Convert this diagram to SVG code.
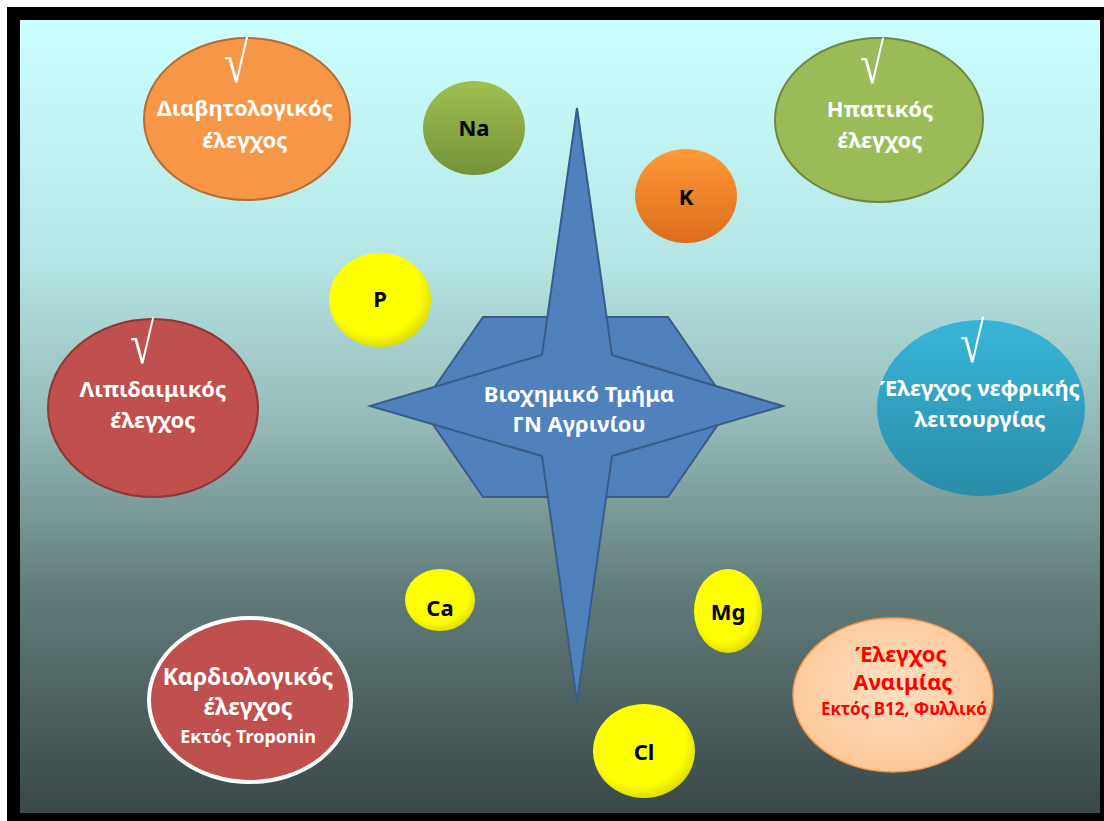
<svg xmlns="http://www.w3.org/2000/svg" width="1104" height="821" viewBox="0 0 1104 821">
<defs>
<linearGradient id="bg" x1="0" y1="0" x2="0" y2="1">
<stop offset="0" stop-color="#CCFFFF"/>
<stop offset="0.3" stop-color="#B5E6E5"/>
<stop offset="0.5" stop-color="#96BCB9"/>
<stop offset="0.72" stop-color="#627C7B"/>
<stop offset="1" stop-color="#3A4747"/>
</linearGradient>
<linearGradient id="gNa" x1="0" y1="0" x2="0" y2="1">
<stop offset="0" stop-color="#9FC04F"/>
<stop offset="1" stop-color="#74913A"/>
</linearGradient>
<linearGradient id="gK" x1="0" y1="0" x2="0" y2="1">
<stop offset="0" stop-color="#FF9A36"/>
<stop offset="1" stop-color="#DC6C1E"/>
</linearGradient>
<radialGradient id="gY" cx="0.45" cy="0.42" r="0.6">
<stop offset="0.75" stop-color="#FFFF00"/>
<stop offset="1" stop-color="#DADA00"/>
</radialGradient>
<linearGradient id="gBlue" x1="0" y1="0" x2="0" y2="1">
<stop offset="0" stop-color="#38B5D9"/>
<stop offset="1" stop-color="#2A8CA8"/>
</linearGradient>
<radialGradient id="gPeach" cx="0.5" cy="0.45" r="0.6">
<stop offset="0" stop-color="#FFE0C2"/>
<stop offset="1" stop-color="#FCC593"/>
</radialGradient>
<style>
.w{fill:#FFFFFF;font-family:"Noto Sans","DejaVu Sans",sans-serif;font-weight:bold;text-anchor:middle;font-size:22px}
.chk{fill:#FFFFFF;font-family:"Liberation Serif","DejaVu Serif",serif;text-anchor:middle;font-size:44px}
.b{fill:#000000;font-family:"Noto Sans","DejaVu Sans",sans-serif;font-weight:bold;text-anchor:middle;font-size:22px}
.r{fill:#FF0000;font-family:"Noto Sans","DejaVu Sans",sans-serif;font-weight:bold;text-anchor:middle}
.star{fill:#4F81BD;stroke:#385D8A;stroke-width:2;stroke-linejoin:miter}
</style>
</defs>
<rect x="0" y="0" width="1104" height="821" fill="#FFFFFF"/>
<rect x="7" y="7" width="1097" height="814" fill="#000000"/>
<rect x="20" y="20" width="1080" height="793" fill="url(#bg)"/>

<g id="center">
<polygon class="star" points="483,317 668,317 730,407 668,497 483,497 421,407"/>
<polygon class="star" points="577,108 612,355 783,406 612,456 577,702 542,456 370,406 542,355"/>
<text class="w" x="579" y="402">Βιοχημικό Τμήμα</text>
<text class="w" x="579" y="432">ΓΝ Αγρινίου</text>
</g>

<g id="diabetes">
<ellipse cx="247" cy="119" rx="103" ry="81" fill="#F79646" stroke="#B66D31" stroke-width="2"/>
<text class="chk" transform="translate(236,82) scale(1,1.3)">√</text>
<text class="w" x="245" y="116">Διαβητολογικός</text>
<text class="w" x="245" y="148">έλεγχος</text>
</g>

<g id="hepatic">
<ellipse cx="879" cy="120" rx="104" ry="82" fill="#9BBB59" stroke="#71893F" stroke-width="2"/>
<text class="chk" transform="translate(872,83) scale(1,1.3)">√</text>
<text class="w" x="880" y="117">Ηπατικός</text>
<text class="w" x="880" y="148">έλεγχος</text>
</g>

<g id="lipid">
<ellipse cx="153" cy="408" rx="105" ry="89" fill="#C0504D" stroke="#8C3836" stroke-width="2"/>
<text class="chk" transform="translate(142,363) scale(1,1.3)">√</text>
<text class="w" x="153" y="397">Λιπιδαιμικός</text>
<text class="w" x="153" y="428">έλεγχος</text>
</g>

<g id="renal">
<ellipse cx="981" cy="408" rx="104" ry="88" fill="url(#gBlue)"/>
<text class="chk" transform="translate(972,362) scale(1,1.3)">√</text>
<text class="w" x="980" y="396">Έλεγχος νεφρικής</text>
<text class="w" x="980" y="427">λειτουργίας</text>
</g>

<g id="cardio">
<ellipse cx="250" cy="700" rx="101" ry="82" fill="#C0504D" stroke="#FFFFFF" stroke-width="4"/>
<text class="w" x="248" y="685" style="font-size:23px">Καρδιολογικός</text>
<text class="w" x="248" y="715" style="font-size:23px">έλεγχος</text>
<text class="w" x="248" y="743" style="font-size:18px">Εκτός Troponin</text>
</g>

<g id="anemia">
<ellipse cx="893" cy="695" rx="100" ry="77" fill="url(#gPeach)" stroke="#F79646" stroke-width="1.5"/>
<text class="r" x="901" y="662" style="font-size:22px">Έλεγχος</text>
<text class="r" x="903" y="690" style="font-size:22px">Αναιμίας</text>
<text class="r" x="904" y="715" style="font-size:17px">Εκτός Β12, Φυλλικό</text>
</g>

<g id="na">
<ellipse cx="474" cy="128" rx="51" ry="47" fill="url(#gNa)"/>
<text class="b" x="474" y="136">Na</text>
</g>
<g id="k">
<ellipse cx="686" cy="196" rx="51" ry="47" fill="url(#gK)"/>
<text class="b" x="686" y="205">K</text>
</g>
<g id="p">
<ellipse cx="380" cy="300" rx="51" ry="47" fill="url(#gY)"/>
<text class="b" x="380" y="307">P</text>
</g>
<g id="ca">
<ellipse cx="440" cy="600" rx="35" ry="31" fill="url(#gY)"/>
<text class="b" x="440" y="616">Ca</text>
</g>
<g id="mg">
<ellipse cx="728" cy="611" rx="34" ry="42" fill="url(#gY)"/>
<text class="b" x="728" y="620">Mg</text>
</g>
<g id="cl">
<ellipse cx="644" cy="751" rx="51" ry="47" fill="url(#gY)"/>
<text class="b" x="644" y="760">Cl</text>
</g>
</svg>
